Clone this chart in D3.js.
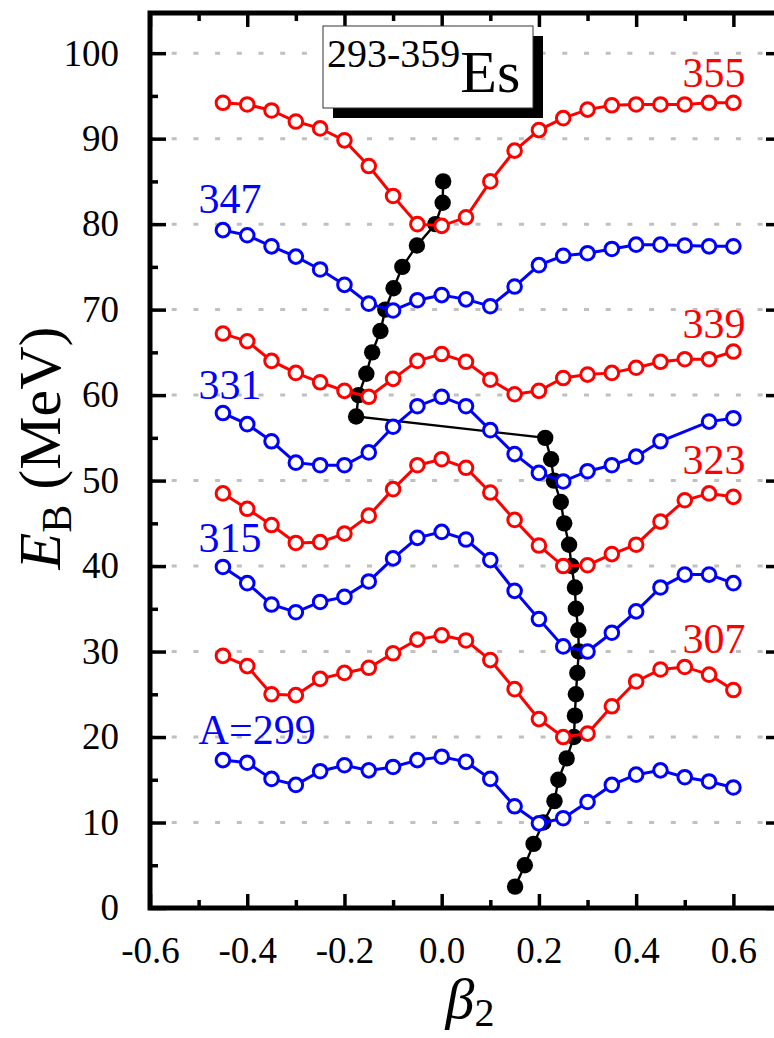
<!DOCTYPE html>
<html><head><meta charset="utf-8">
<script src="https://cdn.jsdelivr.net/npm/d3@7"></script>
<style>
html,body{margin:0;padding:0;background:#fff;}
svg text, svg .tick text{font-family:"Liberation Serif","Times New Roman","DejaVu Serif",serif !important;}
</style></head>
<body>
<svg id="chart" width="774" height="1038"></svg>
<script>
// ---------- data ----------
const beta = [-0.45,-0.40,-0.35,-0.30,-0.25,-0.20,-0.15,-0.10,-0.05,0.00,0.05,0.10,0.15,0.20,0.25,0.30,0.35,0.40,0.45,0.50,0.55,0.60];

const e299 = [17.3,17.0,15.1,14.4,16.0,16.7,16.1,16.5,17.3,17.7,17.1,15.1,11.9,9.9,10.5,12.4,14.4,15.6,16.1,15.3,14.8,14.1];
const e307 = [29.5,28.3,25.0,24.9,26.8,27.5,28.1,29.8,31.4,31.9,31.3,29.0,25.6,22.1,20.0,20.4,23.6,26.5,27.9,28.2,27.3,25.5];
const e315 = [39.9,38.0,35.5,34.6,35.8,36.4,38.2,40.9,43.3,44.0,43.1,40.7,37.1,33.8,30.6,30.0,32.2,34.7,37.5,39.0,39.0,38.0];
const e323 = [48.5,46.7,44.8,42.7,42.8,43.8,45.9,49.0,51.8,52.5,51.5,48.6,45.4,42.4,40.0,40.1,41.4,42.5,45.2,47.7,48.5,48.1];
const e331 = [57.9,56.6,54.6,52.1,51.8,51.8,53.3,56.3,58.7,59.8,58.7,55.9,53.1,50.9,49.9,51.1,51.8,52.8,54.6,null,56.9,57.3];
const e339 = [67.2,66.3,64.0,62.6,61.5,60.5,59.8,61.9,64.0,64.8,63.9,61.8,60.1,60.5,62.0,62.4,62.6,63.2,63.9,64.2,64.2,65.1];
const e347 = [79.3,78.7,77.4,76.2,74.7,72.9,70.7,69.9,71.1,71.7,71.2,70.4,72.7,75.2,76.3,76.6,77.1,77.6,77.6,77.5,77.4,77.4];
const e355 = [94.2,94.0,93.3,92.0,91.2,89.8,86.8,83.3,80.0,79.8,80.8,85.0,88.6,91.0,92.4,93.4,93.9,94.0,94.0,94.0,94.2,94.2];

const seriesNames  = ["A=299","307","315","323","331","339","347","355"];
const seriesValues = [e299,e307,e315,e323,e331,e339,e347,e355];
const seriesColors = ["#0000ff","#ff0000","#0000ff","#ff0000","#0000ff","#ff0000","#0000ff","#ff0000"];
const labelBeta = [-0.5,0.625,-0.5,0.625,-0.5,0.625,-0.5,0.625];
const labelE    = [19.2,29.8,41.6,50.8,59.6,66.7,81.3,96.0];
const labelSide = ["start","end","start","end","start","end","start","end"];

// ground-state chain, A = 293..359
const gsA    = [293,295,297,299,301,303,305,307,309,311,313,315,317,319,321,323,325,327,329,331,333,335,337,339,341,343,345,347,349,351,353,355,357,359];
const gsBeta = [0.151,0.171,0.189,0.209,0.232,0.240,0.257,0.272,0.274,0.276,0.279,0.282,0.281,0.276,0.274,0.267,0.262,0.252,0.245,0.231,0.225,0.213,-0.176,-0.171,-0.155,-0.143,-0.126,-0.116,-0.099,-0.081,-0.051,-0.013,0.002,0.003];
const gsE    = [2.5,5,7.5,10,12.5,15,17.5,20,22.5,25,27.5,30,32.5,35,37.5,40,42.5,45,47.5,50,52.5,55,57.5,60,62.5,65,67.5,70,72.5,75,77.5,80,82.5,85];

const xMajor = [-0.6,-0.4,-0.2,0.0,0.2,0.4,0.6];
const xMinor = [-0.5,-0.3,-0.1,0.1,0.3,0.5,0.7];
const yMajor = [0,10,20,30,40,50,60,70,80,90,100];
const yMinor = [5,15,25,35,45,55,65,75,85,95];
const gridY  = [10,20,30,40,50,60,70,80,90,100];

const FONT = '"Liberation Serif","Times New Roman","DejaVu Serif",serif';

// ---------- scales ----------
const svg = d3.select("#chart");
const x = d3.scaleLinear().domain([-0.6,0.7]).range([150,782]);
const y = d3.scaleLinear().domain([0,104.7]).range([908,13]);

// grid
svg.append("g").selectAll("line").data(gridY).join("line")
  .attr("x1",x(-0.6)).attr("x2",x(0.7))
  .attr("y1",d=>y(d)).attr("y2",d=>y(d))
  .attr("stroke","#c0c0c0").attr("stroke-width",3)
  .attr("stroke-dasharray","5,16.7");

function styleAxis(g){ g.attr("font-family",FONT); g.select(".domain").remove(); g.selectAll(".tick line").attr("stroke","#000").attr("stroke-width",3.5); }
const fmtX = d => d3.format(".1f")(d).replace("\u2212","-");
const fs = 37;

const gB = svg.append("g").attr("transform",`translate(0,${y(0)})`)
  .call(d3.axisBottom(x).tickValues(xMajor).tickSizeInner(-14).tickSizeOuter(0).tickPadding(29).tickFormat(fmtX));
styleAxis(gB);
gB.attr("font-size",fs);
gB.selectAll(".tick text").attr("fill","#000").style("font-family",FONT);
svg.append("g").attr("transform",`translate(0,${y(0)})`)
  .call(d3.axisBottom(x).tickValues(xMinor).tickSizeInner(-8).tickSizeOuter(0).tickFormat("")).call(styleAxis);

svg.append("g").attr("transform",`translate(0,${y(104.7)})`)
  .call(d3.axisTop(x).tickValues(xMajor).tickSizeInner(-14).tickSizeOuter(0).tickFormat("")).call(styleAxis);
svg.append("g").attr("transform",`translate(0,${y(104.7)})`)
  .call(d3.axisTop(x).tickValues(xMinor).tickSizeInner(-8).tickSizeOuter(0).tickFormat("")).call(styleAxis);

const gL = svg.append("g").attr("transform",`translate(${x(-0.6)},0)`)
  .call(d3.axisLeft(y).tickValues(yMajor).tickSizeInner(-16).tickSizeOuter(0).tickPadding(31).tickFormat(d3.format("d")));
styleAxis(gL);
gL.attr("font-size",fs);
gL.selectAll(".tick text").attr("fill","#000").style("font-family",FONT);
svg.append("g").attr("transform",`translate(${x(-0.6)},0)`)
  .call(d3.axisLeft(y).tickValues(yMinor).tickSizeInner(-8).tickSizeOuter(0).tickFormat("")).call(styleAxis);

svg.append("g").attr("transform",`translate(${x(0.7)},0)`)
  .call(d3.axisRight(y).tickValues(yMajor).tickSizeInner(-16).tickSizeOuter(0).tickFormat("")).call(styleAxis);
svg.append("g").attr("transform",`translate(${x(0.7)},0)`)
  .call(d3.axisRight(y).tickValues(yMinor).tickSizeInner(-8).tickSizeOuter(0).tickFormat("")).call(styleAxis);

// frame
svg.append("rect").attr("x",x(-0.6)).attr("y",y(104.7))
  .attr("width",x(0.7)-x(-0.6)).attr("height",y(0)-y(104.7))
  .attr("fill","none").attr("stroke","#000").attr("stroke-width",5);

// ---------- ground-state chain ----------
const gs = gsA.map((a,i)=>({b:gsBeta[i],e:gsE[i]}));
const line = d3.line().x(d=>x(d.b)).y(d=>y(d.e));
svg.append("path").datum(gs).attr("d",line)
  .attr("fill","none").attr("stroke","#000").attr("stroke-width",2.4);
svg.append("g").selectAll("circle").data(gs).join("circle")
  .attr("cx",d=>x(d.b)).attr("cy",d=>y(d.e)).attr("r",8.2).attr("fill","#000");

// ---------- PES curves ----------
seriesValues.forEach((vals,k)=>{
  const pts = beta.map((b,i)=>({b:b,e:vals[i]})).filter(d=>d.e!==null);
  const g = svg.append("g");
  g.append("path").datum(pts).attr("d",line)
    .attr("fill","none").attr("stroke",seriesColors[k]).attr("stroke-width",3);
  g.selectAll("circle").data(pts).join("circle")
    .attr("cx",d=>x(d.b)).attr("cy",d=>y(d.e)).attr("r",6.8)
    .attr("fill","#fff").attr("stroke",seriesColors[k]).attr("stroke-width",3);
  svg.append("text").attr("x",x(labelBeta[k])).attr("y",y(labelE[k]))
    .attr("text-anchor",labelSide[k]).attr("font-size",42).style("font-family",FONT)
    .attr("fill",seriesColors[k]).text(seriesNames[k]);
});

// ---------- title box ----------
const bx = 323, by = 26, bw = 210, bh = 82;
svg.append("rect").attr("x",bx+10).attr("y",by+10).attr("width",bw).attr("height",bh).attr("fill","#000");
svg.append("rect").attr("x",bx).attr("y",by).attr("width",bw).attr("height",bh)
  .attr("fill","#fff").attr("stroke","#333").attr("stroke-width",1);
const tt = svg.append("text").attr("x",bx+4).attr("y",by+66).attr("fill","#000").style("font-family",FONT);
tt.append("tspan").attr("font-size",40).attr("dy",-25).text("293-359");
tt.append("tspan").attr("font-size",60).attr("dy",25).text("Es");

// ---------- axis titles ----------
const yt = svg.append("text").attr("transform","translate(60,448) rotate(-90)")
  .attr("text-anchor","middle").attr("font-size",60).attr("fill","#000").style("font-family",FONT);
yt.append("tspan").attr("font-style","italic").text("E");
yt.append("tspan").attr("font-size",42).attr("dy",11).text("B");
yt.append("tspan").attr("dy",-11).text(" (MeV)");

const xt = svg.append("text").attr("x",470).attr("y",1018)
  .attr("text-anchor","middle").attr("font-size",58).attr("fill","#000").style("font-family",FONT);
xt.append("tspan").attr("font-style","italic").text("β");
xt.append("tspan").attr("font-size",40).attr("dy",8).text("2");
</script>
</body></html>
